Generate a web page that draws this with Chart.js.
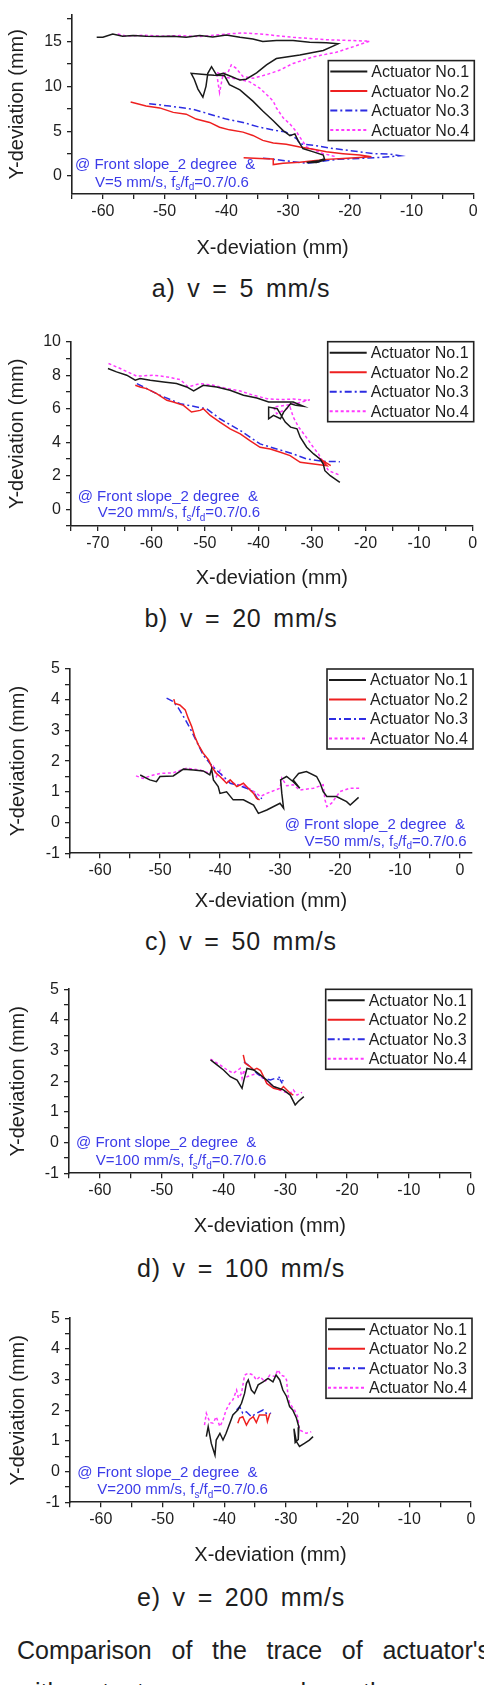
<!DOCTYPE html>
<html>
<head>
<meta charset="utf-8">
<script src="https://cdn.jsdelivr.net/npm/chart.js@4.4.1/dist/chart.umd.min.js"></script>
<style>
html,body{margin:0;padding:0;background:#fff;}
body{width:484px;height:1685px;overflow:hidden;position:relative;}
canvas{position:absolute;left:0;}
.sub{position:absolute;left:0;width:482px;text-align:center;font-family:"Liberation Sans",Arial,sans-serif;font-size:25px;line-height:30px;letter-spacing:0.8px;word-spacing:4px;color:#1e1e1e;white-space:pre;}
.cap{position:absolute;left:17px;width:473px;font-family:"Liberation Sans",Arial,sans-serif;font-size:25px;line-height:30px;color:#1e1e1e;text-align:justify;text-align-last:justify;white-space:nowrap;}
</style>
</head>
<body>
<script>
// ---------- categories / labels ----------
const SERIES_NAMES = ['Actuator No.1','Actuator No.2','Actuator No.3','Actuator No.4'];
const PANEL_TITLES = ['a) v = 5 mm/s','b) v = 20 mm/s','c) v = 50 mm/s','d) v = 100 mm/s','e) v = 200 mm/s'];
const SPEEDS = ['5','20','50','100','200'];
const NOTE_LINE1 = '@ Front slope_2 degree  &';
const X_TITLE = 'X-deviation (mm)';
const Y_TITLE = 'Y-deviation (mm)';
const CAPTION1 = "Comparison of the trace of actuator's";
const CAPTION2 = 'with actuator ram speed on the ground';

// ---------- tick labels ----------
const X_TICKS_A = [-60,-50,-40,-30,-20,-10,0];
const X_TICKS_B = [-70,-60,-50,-40,-30,-20,-10,0];
const Y_TICKS_A = [0,5,10,15];
const Y_TICKS_B = [0,2,4,6,8,10];
const Y_TICKS_C = [-1,0,1,2,3,4,5];

// ---------- a) v = 5 mm/s ----------
const A_NO1 = [[-61.0,15.47],[-60.0,15.47],[-58.4,15.84],[-56.8,15.58],[-55.1,15.66],[-53.0,15.58],[-50.8,15.55],[-48.6,15.58],[-46.5,15.47],[-44.3,15.66],[-42.2,15.51],[-40.0,15.73],[-37.8,15.47],[-35.7,15.29],[-34.1,15.0],[-31.9,15.11],[-29.2,15.11],[-26.5,14.93],[-23.8,14.85],[-21.9,14.74],[-24.3,14.0],[-28.1,13.5],[-31.9,13.1],[-33.5,12.4],[-35.1,11.5],[-36.8,10.8],[-37.8,10.7],[-39.2,11.1],[-40.5,11.46],[-41.6,11.28],[-42.4,12.2],[-43.0,11.46],[-43.3,10.0],[-43.8,8.8],[-44.6,9.7],[-45.2,10.8],[-45.7,11.45],[-44.0,11.35],[-42.0,11.25],[-40.3,11.2],[-39.5,10.2],[-37.8,9.6],[-35.7,8.35],[-34.1,7.26],[-32.4,6.17],[-30.8,5.07],[-29.7,4.5],[-28.9,4.7],[-28.4,3.98],[-27.6,3.07],[-25.9,2.7],[-24.3,2.34],[-24.05,1.79],[-25.4,1.5],[-27.0,1.5],[-25.0,1.7],[-24.2,1.9]];
const A_NO2 = [[-55.5,8.25],[-53.0,7.8],[-50.8,7.6],[-48.6,7.1],[-46.5,6.9],[-44.9,6.35],[-42.7,5.98],[-41.1,5.44],[-39.5,5.15],[-37.3,4.9],[-35.7,4.53],[-34.1,3.98],[-32.4,3.69],[-30.3,3.54],[-28.1,3.25],[-25.9,3.0],[-23.8,2.7],[-21.1,2.5],[-18.4,2.34],[-16.5,2.15],[-18.4,2.08],[-21.1,1.97],[-23.8,1.86],[-25.9,1.72],[-28.1,1.53],[-30.8,1.42],[-32.4,1.28],[-32.4,1.9],[-34.6,1.97],[-37.2,2.04]];
const A_NO3 = [[-52.5,8.07],[-49.2,7.8],[-45.4,7.45],[-42.7,6.9],[-40.0,6.35],[-37.3,5.98],[-34.6,5.44],[-31.9,5.07],[-30.3,4.9],[-28.6,4.16],[-28.1,3.6],[-25.9,3.43],[-22.7,3.07],[-19.5,2.8],[-16.2,2.5],[-13.5,2.44],[-11.9,2.26],[-15.1,2.08],[-18.4,1.97],[-22.2,1.86],[-24.9,1.6],[-27.0,1.42],[-29.2,1.6],[-31.4,1.79],[-33.5,1.97],[-34.5,2.0]];
const A_NO4 = [[-57.6,15.84],[-56.2,15.6],[-53.5,15.7],[-50.5,15.6],[-47.5,15.66],[-44.5,15.55],[-42.0,15.7],[-40.0,15.84],[-37.3,15.95],[-34.6,15.84],[-29.2,15.47],[-23.8,15.2],[-16.8,15.04],[-19.5,14.4],[-22.2,13.8],[-25.9,13.3],[-29.2,12.55],[-31.4,11.8],[-33.5,11.3],[-35.7,10.9],[-37.3,11.1],[-38.4,12.0],[-39.2,12.4],[-39.7,11.6],[-40.5,11.46],[-41.1,9.3],[-41.6,11.6],[-40.0,11.0],[-38.0,10.8],[-36.2,10.5],[-34.6,9.8],[-33.5,9.1],[-32.4,8.35],[-31.9,7.6],[-30.8,6.5],[-29.7,5.8],[-28.6,4.9],[-28.1,4.34],[-27.0,3.25],[-24.3,2.5],[-22.2,2.15]];

// ---------- b) v = 20 mm/s ----------
const B_NO1 = [[-68.1,8.4],[-66.5,8.2],[-64.6,8.0],[-63.0,7.7],[-62.1,7.8],[-60.2,7.7],[-57.7,7.6],[-55.3,7.5],[-53.4,7.3],[-52.1,7.06],[-50.3,7.4],[-47.8,7.3],[-45.3,7.1],[-42.8,6.8],[-40.3,6.64],[-38.1,6.4],[-36.0,6.4],[-33.5,6.4],[-31.6,6.14],[-33.0,6.2],[-34.0,6.3],[-35.3,5.8],[-35.9,5.4],[-37.2,5.6],[-38.1,5.4],[-38.1,6.1],[-36.5,6.0],[-35.0,5.2],[-34.0,4.9],[-32.8,4.8],[-32.2,4.3],[-31.0,3.7],[-29.7,3.3],[-28.5,3.0],[-27.9,2.7],[-27.6,2.3],[-26.6,2.0],[-24.8,1.6]];
const B_NO2 = [[-63.0,7.4],[-62.1,7.3],[-60.9,7.2],[-59.0,6.9],[-57.1,6.5],[-55.9,6.4],[-54.0,6.2],[-52.5,5.8],[-50.9,5.9],[-50.3,6.0],[-49.0,5.6],[-47.2,5.2],[-45.3,4.8],[-43.4,4.5],[-41.6,4.1],[-39.7,3.7],[-37.8,3.6],[-35.9,3.4],[-34.1,3.2],[-32.2,2.8],[-29.7,2.7],[-27.2,2.6],[-28.5,3.0],[-26.5,2.6]];
const B_NO3 = [[-62.7,7.5],[-58.4,6.8],[-54.6,6.3],[-50.9,6.06],[-49.7,6.0],[-47.2,5.4],[-43.4,4.7],[-39.7,3.9],[-36.6,3.6],[-33.5,3.3],[-31.0,3.0],[-27.9,2.86],[-24.8,2.84]];
const B_NO4 = [[-68.0,8.7],[-65.8,8.4],[-62.7,7.94],[-59.6,8.0],[-57.1,7.9],[-54.6,7.74],[-53.1,7.3],[-50.9,7.5],[-48.4,7.4],[-45.9,7.2],[-43.4,7.06],[-40.9,6.8],[-38.4,6.6],[-35.9,6.54],[-33.5,6.58],[-31.0,6.5],[-30.4,6.54],[-33.0,6.3],[-35.0,6.2],[-37.2,6.1],[-36.6,5.7],[-35.3,5.9],[-34.1,6.1],[-33.5,5.5],[-32.5,4.9],[-31.3,4.4],[-30.0,3.8],[-28.8,3.3],[-27.9,2.8],[-26.9,2.3],[-25.0,2.06]];

// ---------- c) v = 50 mm/s ----------
const C_NO1 = [[-53.3,1.55],[-51.7,1.39],[-50.6,1.33],[-50.0,1.5],[-47.8,1.52],[-46.1,1.74],[-44.4,1.71],[-42.8,1.68],[-41.7,1.55],[-41.4,1.75],[-41.1,1.39],[-40.3,1.17],[-40.0,0.95],[-38.9,1.0],[-37.8,0.74],[-36.1,0.74],[-34.4,0.57],[-33.6,0.3],[-32.2,0.41],[-30.0,0.63],[-29.4,0.47],[-29.7,0.95],[-29.9,1.39],[-28.9,1.5],[-27.8,1.33],[-26.7,1.12],[-27.8,1.39],[-26.9,1.6],[-25.6,1.66],[-23.9,1.5],[-23.3,1.28],[-22.8,1.01],[-22.2,0.85],[-20.6,0.85],[-18.9,0.68],[-18.3,0.57],[-16.9,0.82]];
const C_NO2 = [[-47.7,4.02],[-47.5,3.88],[-46.7,3.83],[-45.8,3.67],[-45.3,3.4],[-44.7,3.12],[-44.2,2.8],[-43.6,2.53],[-42.8,2.26],[-41.9,2.04],[-41.4,1.82],[-40.6,1.6],[-40.0,1.5],[-38.9,1.28],[-38.3,1.39],[-37.2,1.17],[-36.1,1.28],[-35.3,1.12],[-34.4,0.95],[-33.9,0.79],[-33.4,0.74]];
const C_NO3 = [[-48.9,4.05],[-47.8,3.94],[-46.9,3.72],[-45.6,3.29],[-44.7,2.96],[-43.9,2.64],[-42.8,2.2],[-41.7,1.93],[-40.6,1.71],[-39.4,1.5],[-38.3,1.28],[-37.2,1.23],[-35.6,1.12],[-34.4,1.0],[-33.6,0.74],[-33.0,0.8]];
const C_NO4 = [[-54.0,1.52],[-52.8,1.44],[-51.1,1.55],[-50.0,1.6],[-47.8,1.62],[-45.6,1.77],[-43.3,1.71],[-41.7,1.6],[-41.1,1.82],[-40.6,1.5],[-40.0,1.7],[-39.4,1.39],[-37.8,1.28],[-35.6,1.17],[-33.9,0.95],[-33.3,0.85],[-32.2,0.95],[-30.0,1.12],[-29.7,1.45],[-28.9,1.2],[-27.8,1.23],[-26.7,1.06],[-24.4,1.12],[-22.8,1.23],[-22.5,0.74],[-22.2,0.52],[-21.4,0.63],[-20.0,1.01],[-18.3,1.12],[-16.7,1.12]];

// ---------- d) v = 100 mm/s ----------
const D_NO1 = [[-42.1,2.70],[-41.0,2.53],[-40.0,2.37],[-38.9,2.15],[-37.8,2.04],[-37.0,1.77],[-36.7,2.04],[-36.2,2.42],[-35.1,2.37],[-34.0,2.2],[-33.0,2.04],[-31.9,1.83],[-30.3,1.72],[-29.2,1.55],[-28.4,1.23],[-27.9,1.34],[-27.0,1.5]];
const D_NO2 = [[-36.8,2.86],[-36.5,2.59],[-35.7,2.48],[-35.1,2.37],[-34.6,2.42],[-34.0,2.35],[-33.5,2.15],[-33.0,1.93],[-31.9,1.77],[-30.8,1.72],[-30.3,1.83],[-29.2,1.61],[-28.7,1.55]];
const D_NO3 = [[-36.7,2.64],[-35.7,2.48],[-34.6,2.26],[-33.5,2.1],[-32.4,2.04],[-31.6,2.1],[-30.8,2.04],[-30.5,1.93],[-31.1,2.15],[-30.3,2.0]];
const D_NO4 = [[-42.1,2.72],[-40.5,2.53],[-39.4,2.37],[-38.4,2.26],[-37.3,2.42],[-37.0,2.1],[-36.7,2.37],[-36.2,2.15],[-34.6,2.26],[-33.0,1.99],[-31.4,1.77],[-30.3,1.66],[-29.2,1.61],[-28.7,1.72],[-28.1,1.55],[-27.3,1.64]];

// ---------- e) v = 200 mm/s ----------
const E_NO1 = [[-42.9,1.14],[-42.6,1.47],[-42.1,0.92],[-41.5,0.54],[-41.3,1.03],[-40.7,1.25],[-40.2,1.03],[-39.7,1.25],[-39.1,1.58],[-38.6,1.85],[-37.8,2.01],[-37.2,2.23],[-36.7,2.55],[-36.4,2.88],[-36.1,2.99],[-35.6,2.66],[-35.1,2.55],[-34.5,2.83],[-33.7,2.93],[-32.9,3.04],[-32.1,2.93],[-31.6,3.15],[-31.0,2.99],[-30.5,2.66],[-29.9,2.45],[-29.4,2.12],[-28.9,2.01],[-28.3,1.75],[-27.9,1.45],[-28.0,1.05],[-28.5,0.95],[-28.7,1.4],[-28.3,0.98],[-27.8,0.82],[-27.0,0.92],[-26.2,1.03],[-25.6,1.14]];
const E_NO2 = [[-37.8,1.58],[-37.5,1.75],[-37.0,1.79],[-36.4,1.52],[-35.9,1.7],[-35.3,1.79],[-34.8,1.6],[-34.3,1.85],[-33.2,1.85],[-33.0,1.63],[-32.6,1.9]];
const E_NO3 = [[-38.0,2.01],[-37.5,2.12],[-37.0,1.9],[-36.4,1.95],[-35.6,1.79],[-34.8,1.9],[-33.7,2.01],[-33.2,1.9],[-32.4,1.9]];
const E_NO4 = [[-43.2,1.52],[-42.9,1.9],[-42.3,1.6],[-41.8,1.58],[-41.3,1.79],[-40.7,1.47],[-40.2,1.68],[-39.7,2.01],[-39.1,2.23],[-38.6,2.34],[-38.0,2.66],[-37.7,2.4],[-37.2,2.55],[-36.7,3.15],[-36.1,3.21],[-35.3,3.15],[-34.8,2.99],[-34.2,3.1],[-33.4,2.93],[-32.6,3.15],[-31.8,3.1],[-31.3,3.32],[-30.8,3.15],[-30.2,3.1],[-29.9,2.99],[-29.7,2.55],[-29.4,2.23],[-28.6,2.01],[-28.1,1.79],[-27.8,1.36],[-27.2,1.3],[-26.7,1.25],[-25.9,1.3]];

// ---------- styles ----------
const FONT = '"Liberation Sans", Arial, sans-serif';
const INK = '#1e1e1e';
const NOTE_COLOR = '#3b3be8';
const STYLES = [
  {color:'#1a1a1a', dash:[]},
  {color:'#ee2020', dash:[]},
  {color:'#2c2ce2', dash:[7,3,2,3]},
  {color:'#ff38ff', dash:[3,2.5]}
];

// ---------- layout (page pixels) ----------
const PANELS = [
  {series:[A_NO1,A_NO2,A_NO3,A_NO4], xTicks:X_TICKS_A, yTicks:Y_TICKS_A, xMin:-65, xMax:0, yMin:-2, yMax:18, xMinor:5, yMinor:2.5,
   top:0, h:262, left:72, right:473.3, aTop:10.1, aBot:194, xtPad:2, ytPad:5, legDy:46, subTop:273.4,
   note:{side:'left', dx1:3, dx2:23, dy1:-29, dy2:-11.3}},
  {series:[B_NO1,B_NO2,B_NO3,B_NO4], xTicks:X_TICKS_B, yTicks:Y_TICKS_B, xMin:-75, xMax:0, yMin:-1, yMax:10, xMinor:5, yMinor:1,
   top:300, h:292, left:71, right:472.7, aTop:341.7, aBot:526, xtPad:1.7, ytPad:5, legDy:0, subTop:603.4,
   note:{side:'left', dx1:6.7, dx2:26.7, dy1:-29.3, dy2:-12.7}},
  {series:[C_NO1,C_NO2,C_NO3,C_NO4], xTicks:X_TICKS_A, yTicks:Y_TICKS_C, xMin:-65, xMax:2, yMin:-1, yMax:5, xMinor:5, yMinor:0.5,
   top:630, h:285, left:70, right:472, aTop:669, aBot:853.3, xtPad:1.3, ytPad:6, legDy:0, subTop:926,
   note:{side:'right', dx1:-7, dx2:-5.3, dy1:-28.3, dy2:-11.6}},
  {series:[D_NO1,D_NO2,D_NO3,D_NO4], xTicks:X_TICKS_A, yTicks:Y_TICKS_C, xMin:-65, xMax:0, yMin:-1, yMax:5, xMinor:5, yMinor:0.5,
   top:955, h:285, left:69, right:470.7, aTop:989.3, aBot:1173.3, xtPad:1.3, ytPad:6, legDy:0, subTop:1252.7,
   note:{side:'left', dx1:7, dx2:26.7, dy1:-30, dy2:-12.3}},
  {series:[E_NO1,E_NO2,E_NO3,E_NO4], xTicks:X_TICKS_A, yTicks:Y_TICKS_C, xMin:-65, xMax:0, yMin:-1, yMax:5, xMinor:5, yMinor:0.5,
   top:1285, h:285, left:70, right:471, aTop:1318.3, aBot:1502.3, xtPad:3, ytPad:6, legDy:0, subTop:1581.7,
   note:{side:'left', dx1:7.3, dx2:27.3, dy1:-29.6, dy2:-12.3}}
];

Chart.defaults.font.family = FONT;
Chart.defaults.color = INK;

function tickBuilder(majors, minor, min, max) {
  return (scale) => {
    const vals = new Set(majors);
    for (let v = Math.ceil(min / minor - 1e-9) * minor; v <= max + 1e-9; v += minor) {
      vals.add(Math.round(v * 1000) / 1000);
    }
    scale.ticks = [...vals].sort((a, b) => a - b).map(v => ({value: v}));
  };
}

function drawNote(ctx, area, note, speed) {
  const big = '15px ' + FONT, small = '10px ' + FONT;
  ctx.fillStyle = NOTE_COLOR;
  ctx.textBaseline = 'middle';
  ctx.textAlign = 'left';
  const parts = [['V=' + speed + ' mm/s, f', 0], ['s', 1], ['/f', 0], ['d', 1], ['=0.7/0.6', 0]];
  ctx.font = big;
  const w1 = ctx.measureText(NOTE_LINE1).width;
  let w2 = 0;
  parts.forEach(p => { ctx.font = p[1] ? small : big; w2 += ctx.measureText(p[0]).width; });
  let x1, x2;
  if (note.side === 'left') { x1 = area.left + note.dx1; x2 = area.left + note.dx2; }
  else { x1 = area.right + note.dx1 - w1; x2 = area.right + note.dx2 - w2; }
  const y1 = area.bottom + note.dy1, y2 = area.bottom + note.dy2;
  ctx.font = big;
  ctx.fillText(NOTE_LINE1, x1, y1);
  let x = x2;
  parts.forEach(p => {
    ctx.font = p[1] ? small : big;
    ctx.fillText(p[0], x, p[1] ? y2 + 5 : y2);
    x += ctx.measureText(p[0]).width;
  });
}

function decoPlugin(P, speed) {
  return {
    id: 'deco',
    afterDatasetsDraw(chart) {
      const ctx = chart.ctx, a = chart.chartArea;
      ctx.save();
      const bw = 146, bh = 80;
      const bx = a.right + 1 - bw, by = a.top + P.legDy;
      ctx.fillStyle = '#fff';
      ctx.fillRect(bx, by, bw, bh);
      ctx.strokeStyle = '#222';
      ctx.lineWidth = 1.6;
      ctx.setLineDash([]);
      ctx.strokeRect(bx, by, bw, bh);
      chart.data.datasets.forEach((ds, i) => {
        const y = by + 11 + i * 19.5;
        ctx.beginPath();
        ctx.setLineDash(ds.borderDash || []);
        ctx.strokeStyle = ds.borderColor;
        ctx.lineWidth = 2;
        ctx.moveTo(bx + 2, y);
        ctx.lineTo(bx + 39, y);
        ctx.stroke();
        ctx.setLineDash([]);
        ctx.fillStyle = INK;
        ctx.font = '16px ' + FONT;
        ctx.textBaseline = 'middle';
        ctx.textAlign = 'left';
        ctx.fillText(ds.label, bx + 43, y + 1);
      });
      drawNote(ctx, a, P.note, speed);
      ctx.restore();
    }
  };
}

PANELS.forEach((P, k) => {
  const cv = document.createElement('canvas');
  cv.width = 484; cv.height = P.h;
  cv.style.top = P.top + 'px';
  document.body.appendChild(cv);

  const sub = document.createElement('div');
  sub.className = 'sub';
  sub.style.top = P.subTop + 'px';
  sub.textContent = PANEL_TITLES[k];
  document.body.appendChild(sub);

  const datasets = P.series.map((pts, i) => ({
    label: SERIES_NAMES[i],
    data: pts.map(p => ({x: p[0], y: p[1]})),
    showLine: true,
    borderColor: STYLES[i].color,
    backgroundColor: STYLES[i].color,
    borderDash: STYLES[i].dash,
    borderWidth: 1.5,
    pointRadius: 0,
    tension: 0
  }));

  const areaTopRel = P.aTop - P.top, areaBotRel = P.aBot - P.top;
  new Chart(cv, {
    type: 'scatter',
    data: {datasets},
    options: {
      responsive: false,
      animation: false,
      events: [],
      layout: {padding: {top: areaTopRel, right: 484 - P.right, left: 0, bottom: 0}},
      plugins: {legend: {display: false}, tooltip: {enabled: false}, title: {display: false}},
      scales: {
        x: {
          type: 'linear', min: P.xMin, max: P.xMax,
          afterBuildTicks: tickBuilder(P.xTicks, P.xMinor, P.xMin, P.xMax),
          afterFit: s => { s.height = P.h - areaBotRel; },
          ticks: {autoSkip: false, maxRotation: 0, padding: 3, color: INK, font: {size: 16},
                  callback: v => P.xTicks.includes(v) ? String(v) : ''},
          grid: {display: true, drawOnChartArea: false, drawTicks: true, tickLength: 5, color: '#222', lineWidth: 1.3},
          border: {display: true, color: '#222', width: 1.6},
          title: {display: true, text: X_TITLE, color: INK, font: {size: 20}, padding: {top: 0, bottom: P.xtPad}}
        },
        y: {
          type: 'linear', min: P.yMin, max: P.yMax,
          afterBuildTicks: tickBuilder(P.yTicks, P.yMinor, P.yMin, P.yMax),
          afterFit: s => { s.width = P.left; },
          ticks: {autoSkip: false, padding: 5, color: INK, font: {size: 16},
                  callback: v => P.yTicks.includes(v) ? String(v) : ''},
          grid: {display: true, drawOnChartArea: false, drawTicks: true, tickLength: 5, color: '#222', lineWidth: 1.3},
          border: {display: true, color: '#222', width: 1.6},
          title: {display: true, text: Y_TITLE, color: INK, font: {size: 20}, padding: {top: P.ytPad, bottom: 0}}
        }
      }
    },
    plugins: [decoPlugin(P, SPEEDS[k])]
  });
});

const c1 = document.createElement('div');
c1.className = 'cap'; c1.style.top = '1634.7px'; c1.textContent = CAPTION1;
document.body.appendChild(c1);
const c2 = document.createElement('div');
c2.className = 'cap'; c2.style.top = '1676.7px'; c2.textContent = CAPTION2;
document.body.appendChild(c2);
</script>
</body>
</html>
